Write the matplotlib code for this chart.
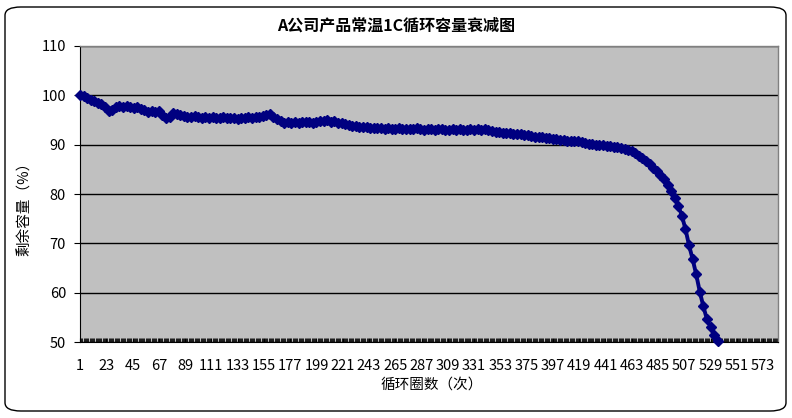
import matplotlib
matplotlib.use("Agg")
import matplotlib.pyplot as plt
from matplotlib.patches import FancyBboxPatch
from matplotlib.ticker import FixedLocator

plt.rcParams['font.family'] = ['Noto Sans CJK SC', 'DejaVu Sans']

title = "A公司产品常温1C循环容量衰减图"
x_label = "循环圈数（次）"
y_label = "剩余容量（%）"

cycles = list(range(1, 536, 3))
capacity = [
    100.0, 99.8, 99.4, 99.0, 98.8, 98.5, 98.2, 97.6, 96.9, 97.0,
    97.7, 97.9, 97.6, 97.8, 97.7, 97.5, 97.6, 97.3, 97.0, 96.7,
    96.9, 96.6, 96.8, 96.0, 95.4, 95.6, 96.4, 96.2, 96.0, 95.8,
    95.6, 95.7, 95.9, 95.6, 95.4, 95.6, 95.5, 95.7, 95.5, 95.4,
    95.6, 95.5, 95.4, 95.5, 95.3, 95.5, 95.4, 95.6, 95.5, 95.7,
    95.6, 95.9, 96.1, 96.2, 95.7, 95.2, 94.7, 94.4, 94.5, 94.4,
    94.6, 94.4, 94.5, 94.6, 94.5, 94.4, 94.6, 94.7, 94.8, 94.9,
    94.6, 94.7, 94.4, 94.3, 94.1, 93.9, 93.8, 93.7, 93.6, 93.5,
    93.6, 93.4, 93.3, 93.3, 93.4, 93.2, 93.3, 93.2, 93.1, 93.3,
    93.2, 93.1, 93.2, 93.1, 93.3, 93.2, 93.0, 93.1, 93.2, 93.0,
    93.1, 93.2, 93.0, 92.9, 93.1, 93.0, 93.1, 92.9, 93.0, 93.1,
    93.0, 93.1, 92.9, 93.1, 93.0, 92.8, 92.6, 92.5, 92.4, 92.3,
    92.4, 92.2, 92.1, 92.2, 92.0, 91.9, 91.8, 91.6, 91.5, 91.5,
    91.3, 91.3, 91.2, 91.1, 91.0, 91.0, 90.8, 90.8, 90.7, 90.8,
    90.5, 90.3, 90.2, 90.1, 90.0, 89.9, 89.9, 89.8, 89.7, 89.6,
    89.5, 89.4, 89.2, 89.0, 88.7, 88.3, 87.8, 87.3, 86.6, 86.0,
    85.3, 84.6, 83.8, 83.0, 81.9, 80.6, 79.2, 77.6, 75.6, 72.9,
    69.6, 66.8, 63.7, 60.2, 57.2, 54.6, 53.0, 51.4, 50.2,
]
assert len(cycles) == len(capacity)

x_tick_labels = [str(v) for v in range(1, 574, 22)]
y_ticks = [50, 60, 70, 80, 90, 100, 110]
n_categories = 586

W, H = 792, 418
fig = plt.figure(figsize=(W / 100, H / 100), dpi=100)
fig.patch.set_facecolor('white')

# rounded chart-area border
border = FancyBboxPatch((5 / W, 7 / H), 781 / W, 404 / H,
                        boxstyle="round,pad=0,rounding_size=0.02",
                        transform=fig.transFigure, facecolor='none',
                        edgecolor='black', linewidth=1.0, zorder=0)
fig.patches.append(border)

ax = fig.add_axes([80 / W, 1 - 342 / H, (778 - 80) / W, (342 - 46) / H])
ax.set_facecolor('#C0C0C0')

ax.plot(cycles, capacity, color='#000080', marker='D', markersize=5.5,
        markeredgecolor='#000080', linewidth=2.8, zorder=3, clip_on=False)

ax.set_xlim(1, n_categories - 0.5)
ax.set_ylim(50, 110)

ax.set_yticks(y_ticks)
ax.yaxis.grid(True, color='black', linewidth=1.0)
ax.set_axisbelow(True)
ax.tick_params(axis='y', length=4, direction='out', pad=6, labelsize=10.5)

ax.xaxis.set_major_locator(FixedLocator([int(s) for s in x_tick_labels]))
ax.set_xticklabels(x_tick_labels)
ax.xaxis.set_minor_locator(FixedLocator(list(range(1, n_categories))))
ax.tick_params(axis='x', which='major', length=3, direction='in', pad=12, labelsize=10.5)
ax.tick_params(axis='x', which='minor', length=3, direction='in', width=0.6)

for side in ['top', 'right']:
    ax.spines[side].set_color('#808080')
    ax.spines[side].set_linewidth(1.0)
ax.spines['left'].set_color('black')
ax.spines['bottom'].set_color('black')

fig.text(396 / W, 1 - 26 / H, title, ha='center', va='center',
         fontsize=11.5, fontweight='bold')
fig.text(432 / W, 1 - 385 / H, x_label, ha='center', va='center', fontsize=10.5)
fig.text(25 / W, 1 - 205 / H, y_label, ha='center', va='center',
         fontsize=10.5, rotation=90)

fig.savefig('out.png', dpi=100)
